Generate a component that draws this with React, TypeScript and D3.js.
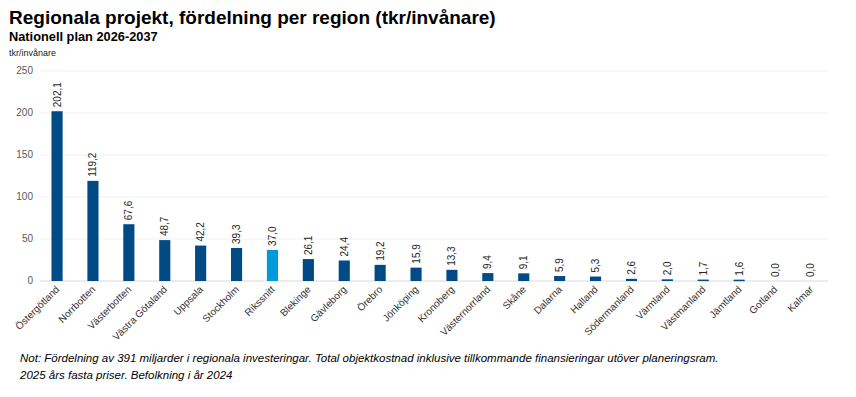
import { useMemo } from "react";
import { scaleBand, scaleLinear } from "d3";

const W = 856;
const H = 397;
const margin = { top: 71, right: 28, bottom: 116, left: 40 };

const regions = [
  "Östergötland", "Norrbotten", "Västerbotten", "Västra Götaland", "Uppsala",
  "Stockholm", "Rikssnitt", "Blekinge", "Gävleborg", "Örebro", "Jönköping",
  "Kronoberg", "Västernorrland", "Skåne", "Dalarna", "Halland",
  "Södermanland", "Värmland", "Västmanland", "Jämtland", "Gotland", "Kalmar",
];
const values = [
  202.1, 119.2, 67.6, 48.7, 42.2, 39.3, 37.0, 26.1, 24.4, 19.2, 15.9, 13.3,
  9.4, 9.1, 5.9, 5.3, 2.6, 2.0, 1.7, 1.6, 0.0, 0.0,
];
const yTicks = [0, 50, 100, 150, 200, 250];
const highlight = "Rikssnitt";

const fmt = (v: number) => v.toFixed(1).replace(".", ",");
const font = "Arial, 'Liberation Sans', sans-serif";

export default function App() {
  const innerW = W - margin.left - margin.right;
  const innerH = H - margin.top - margin.bottom;
  const data = regions.map((r, i) => ({ region: r, value: values[i] }));

  const x = useMemo(
    () => scaleBand().domain(regions).range([0, innerW]).paddingInner(0.69).paddingOuter(0.32),
    [innerW]
  );
  const y = useMemo(() => scaleLinear().domain([0, 250]).range([innerH, 0]), [innerH]);

  return (
    <svg width={W} height={H} style={{ position: "absolute", left: 0, top: 0, background: "#fff" }} fontFamily={font}>
      <text x={9} y={24} fontSize={19} fontWeight="bold" fill="#000">
        Regionala projekt, fördelning per region (tkr/invånare)
      </text>
      <text x={9} y={41} fontSize={12.8} fontWeight="bold" fill="#000">
        Nationell plan 2026-2037
      </text>
      <text x={9} y={56} fontSize={9} fill="#222">tkr/invånare</text>

      <g transform={`translate(${margin.left},${margin.top})`}>
        {yTicks.map((t) => (
          <g key={t} transform={`translate(0,${y(t)})`}>
            <line x1={0} x2={innerW} stroke={t === 0 ? "#d9d9d9" : "#f1f1f1"} strokeWidth={1} />
            <text x={-7} dy="0.32em" textAnchor="end" fontSize={10} fill="#595959">{t}</text>
          </g>
        ))}
        {data.map((d) => {
          const bx = x(d.region) ?? 0;
          const cx = bx + x.bandwidth() / 2;
          return (
            <g key={d.region}>
              <rect
                x={bx}
                y={y(d.value)}
                width={x.bandwidth()}
                height={Math.max(innerH - y(d.value), d.value > 0 ? 1.5 : 0)}
                fill={d.region === highlight ? "#009ad9" : "#004a85"}
              />
              <text
                transform={`translate(${cx + 3.5},${y(d.value) - 4}) rotate(-90)`}
                fontSize={10}
                fill="#262626"
              >
                {fmt(d.value)}
              </text>
              <text
                transform={`translate(${cx + 3},${innerH + 9}) rotate(-45)`}
                textAnchor="end"
                fontSize={10}
                fill="#333"
              >
                {d.region}
              </text>
            </g>
          );
        })}
      </g>

      <text x={20} y={362} fontSize={11.5} fontStyle="italic" fill="#000">
        Not: Fördelning av 391 miljarder i regionala investeringar. Total objektkostnad inklusive tillkommande finansieringar utöver planeringsram.
      </text>
      <text x={20} y={379} fontSize={11.5} fontStyle="italic" fill="#000">
        2025 års fasta priser. Befolkning i år 2024
      </text>
    </svg>
  );
}
